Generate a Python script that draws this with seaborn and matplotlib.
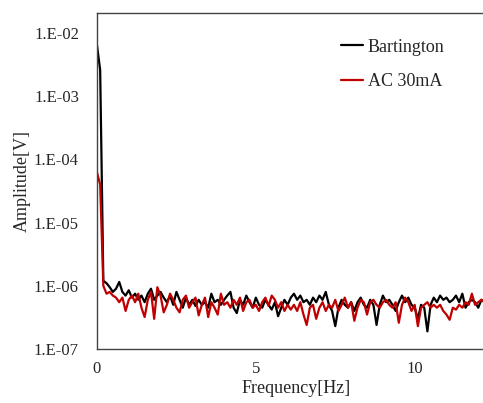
import numpy as np
import pandas as pd
import matplotlib
matplotlib.use("Agg")
import matplotlib.pyplot as plt
import seaborn as sns

# frequency axis (Hz), 0.1 Hz steps
freq = [round(i * 0.1, 1) for i in range(123)]

# amplitudes in units of 1e-7 V
bartington = [
    64000, 26000, 12, 11, 9.5, 8, 9, 11.5, 8, 7,
    8.5, 6.5, 7.5, 6, 7, 5.5, 7.5, 9, 6, 7,
    8, 6.5, 5.5, 7, 5, 8, 6, 4.5, 6.5, 5,
    6, 4.8, 6, 5, 5.5, 4.5, 7.5, 5.5, 6, 5,
    6, 7, 8, 4.5, 3.7, 6, 5, 7, 5.5, 4.5,
    6.5, 5, 4.5, 6, 5, 4.2, 5.5, 3.3, 4.5, 6,
    5, 6.5, 7.5, 6, 7, 5.5, 6, 5, 6.5, 5.5,
    7, 6, 8, 5, 4, 2.3, 4.5, 6, 5, 4.5,
    5.5, 4, 5.5, 6.5, 5, 4.5, 6, 5, 2.4, 5,
    7, 5.5, 6, 5, 4, 5.5, 7, 5.5, 6.5, 5,
    4.5, 3, 5, 4.5, 1.9, 5, 6.5, 5.5, 7, 6,
    6.5, 5.5, 6, 7, 5.5, 7.5, 4.5, 5.5, 6, 5.5,
    4.5, 6, 5.5,
]
ac_30ma = [
    620, 400, 10, 7.5, 8, 7, 6.5, 5.5, 6.5, 4,
    6, 7, 5.5, 7.5, 4.5, 3.2, 6, 8, 3, 9.5,
    7, 3.8, 5, 7.5, 6, 4.5, 3.8, 6, 7, 4.5,
    5.5, 6.5, 3.4, 5, 6.5, 3.2, 5.5, 4.5, 3.5, 7.5,
    5, 5.5, 4.5, 6, 5, 6.5, 4, 5.5, 6, 4.5,
    5, 4, 5.5, 6.5, 4.8, 7, 6, 4.5, 5.5, 4,
    5, 4.2, 5, 4, 5.5, 3.5, 2.4, 4.5, 5, 3,
    4.5, 5.5, 4, 5, 4.5, 6, 4, 5, 6.5, 4.5,
    5.5, 2.8, 4.5, 6, 5.5, 3.5, 5.5, 6, 5, 4.5,
    5.5, 6, 5, 4.5, 5.5, 2.6, 5, 6.5, 5.5, 4,
    5, 2.3, 4.5, 5, 5.5, 4.5, 5, 4.5, 5, 4,
    3.5, 2.9, 4.5, 4.2, 5, 4.5, 5.5, 5, 7.5, 5,
    5.5, 6, 5.5,
]
series_names = ["Bartington", "AC 30mA"]
series_colors = ["#000000", "#C00000"]

y_ticks = [1e-7, 1e-6, 1e-5, 1e-4, 1e-3, 1e-2]
y_tick_labels = ["1.E-07", "1.E-06", "1.E-05", "1.E-04", "1.E-03", "1.E-02"]
x_ticks = [0, 5, 10]

df = pd.concat([
    pd.DataFrame({"freq": freq, "amp": np.array(bartington) * 1e-7, "src": series_names[0]}),
    pd.DataFrame({"freq": freq, "amp": np.array(ac_30ma) * 1e-7, "src": series_names[1]}),
])

sns.set_style("white")
plt.rcParams["font.family"] = ["Liberation Serif", "DejaVu Serif"]

fig = plt.figure(figsize=(4.83, 4.03), dpi=100)
ax = fig.add_axes([0.2008, 0.134, 0.7992, 0.8337])

sns.lineplot(data=df, x="freq", y="amp", hue="src", palette=series_colors,
             linewidth=1.6, ax=ax, estimator=None, sort=False)

ax.set_yscale("log")
ax.set_ylim(1e-7, 2.07e-2)
ax.set_xlim(0, 12.15)
ax.set_yticks(y_ticks)
ax.set_yticklabels(y_tick_labels)
ax.yaxis.set_minor_locator(matplotlib.ticker.NullLocator())
ax.set_xticks(x_ticks)
ax.tick_params(direction="in", length=4, width=0.8, color="#444444",
               labelsize=12)
ax.tick_params(axis="x", pad=9)
ax.tick_params(axis="y", pad=13)

for side in ["left", "top", "bottom"]:
    ax.spines[side].set_color("#444444")
    ax.spines[side].set_linewidth(1.0)
ax.spines["right"].set_visible(False)

ax.set_xlabel("Frequency[Hz]", fontsize=13, labelpad=2)
ax.xaxis.label.set_x(0.515)
ax.set_ylabel("Amplitude[V]", fontsize=13, labelpad=2)

leg = ax.legend(loc="upper right", bbox_to_anchor=(0.943, 0.972), frameon=False,
                fontsize=13, handlelength=1.2, handletextpad=0.3,
                labelspacing=0.95)
for line in leg.get_lines():
    line.set_linewidth(1.6)

fig.savefig("out.png", dpi=100)
